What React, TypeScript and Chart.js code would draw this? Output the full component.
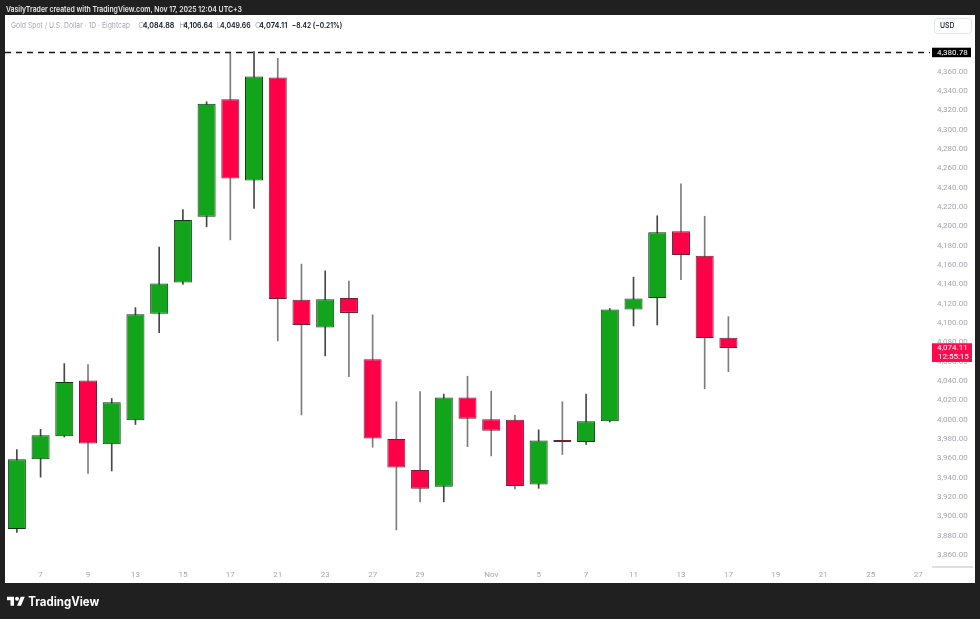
import React, { useEffect, useRef } from "react";
import { Chart, registerables } from "chart.js";

Chart.register(...registerables);

// ---- data ----
const dates = [
  "Oct 6", "Oct 7", "Oct 8", "Oct 9", "Oct 10", "Oct 13", "Oct 14", "Oct 15", "Oct 16", "Oct 17",
  "Oct 20", "Oct 21", "Oct 22", "Oct 23", "Oct 24", "Oct 27", "Oct 28", "Oct 29", "Oct 30", "Oct 31",
  "Nov 3", "Nov 4", "Nov 5", "Nov 6", "Nov 7", "Nov 10", "Nov 11", "Nov 12", "Nov 13", "Nov 14",
  "Nov 17", "Nov 18", "Nov 19", "Nov 20", "Nov 21", "Nov 24", "Nov 25", "Nov 26", "Nov 27",
];
const xTickLabels = [
  "", "7", "", "9", "", "13", "", "15", "", "17",
  "", "21", "", "23", "", "27", "", "29", "", "",
  "Nov", "", "5", "", "7", "", "11", "", "13", "",
  "17", "", "19", "", "21", "", "25", "", "27",
];
const opens = [
  3887, 3959, 3983, 4040.5, 3974.5, 3999.5, 4109.5, 4142, 4210, 4331.5,
  4247.5, 4354, 4124, 4095.5, 4126, 4062.5, 3980, 3948, 3930.5, 4023,
  4000.5, 4000, 3933, 3979, 3977, 3998.5, 4114, 4126, 4195, 4169.5,
  4084.88,
];
const highs = [
  3969, 3990, 4058, 4057, 4022, 4116, 4178.5, 4217.5, 4329, 4379.5,
  4380.78, 4374, 4161, 4154, 4143.5, 4108.5, 4018.5, 4029, 4026.5, 4045,
  4029.5, 4004.5, 3989.5, 4018.5, 4026.5, 4115, 4147.5, 4211, 4244, 4210.5,
  4106.64,
];
const lows = [
  3883.5, 3940.5, 3982, 3944.5, 3947, 3995, 4090, 4140, 4199.5, 4186,
  4218.5, 4081.5, 4005, 4066, 4044.5, 3971.5, 3886, 3915, 3915, 3972,
  3962.5, 3928.5, 3929, 3964, 3974.5, 3997.5, 4097, 4098, 4145, 4032,
  4049.66,
];
const closes = [
  3959, 3984, 4039, 3975.5, 4018, 4109, 4141, 4206.5, 4327, 4249.5,
  4355, 4125, 4098, 4124.5, 4110.5, 3980.5, 3950.5, 3928.5, 4023, 4001,
  3988.5, 3931.5, 3978.5, 3977, 3998.5, 4114, 4125.5, 4194, 4170.5, 4084.5,
  4074.11,
];
const yTicks = [
  3860, 3880, 3900, 3920, 3940, 3960, 3980, 4000, 4020, 4040, 4060, 4080, 4100,
  4120, 4140, 4160, 4180, 4200, 4220, 4240, 4260, 4280, 4300, 4320, 4340, 4360,
];
const yMin = 3847.6;
const yMax = 4418.7;
const athPrice = 4380.78;
const lastPrice = 4074.11;
const countdown = "12:55:15";

const UP = "#12a51c";
const UP_BORDER = "#0d3a11";
const DOWN = "#ff0048";
const DOWN_BORDER = "#6a2433";
const AXIS_TEXT = "#a3a6ad";
const FONT = "Roboto, 'Liberation Sans', sans-serif";

const fmt = (v: number) =>
  v.toLocaleString("en-US", { minimumFractionDigits: 2, maximumFractionDigits: 2 });

const overlayPlugin = {
  id: "tvOverlay",
  afterDraw(chart: any) {
    const { ctx, chartArea, scales } = chart;
    const y = scales.y;
    ctx.save();
    // ATH dashed line
    const ay = Math.round(y.getPixelForValue(athPrice)) + 0.5;
    ctx.setLineDash([6, 5]);
    ctx.strokeStyle = "#131722";
    ctx.lineWidth = 1.3;
    ctx.beginPath();
    ctx.moveTo(chartArea.left, ay);
    ctx.lineTo(chartArea.right, ay);
    ctx.stroke();
    ctx.setLineDash([]);
    // ATH label
    const bx = chartArea.right + 2;
    ctx.fillStyle = "#000000";
    ctx.fillRect(bx, ay - 4.8, 39, 9.5);
    ctx.fillStyle = "#ffffff";
    ctx.font = `8px ${FONT}`;
    ctx.textAlign = "left";
    ctx.textBaseline = "middle";
    ctx.fillText(fmt(athPrice), bx + 5, ay + 0.3);
    // last price label
    const ly = y.getPixelForValue(lastPrice);
    ctx.fillStyle = "#ff0a4c";
    ctx.fillRect(bx, ly - 4.8, 40, 18.7);
    ctx.fillStyle = "#ffffff";
    ctx.fillText(fmt(lastPrice), bx + 5, ly + 0.3);
    ctx.fillText(countdown, bx + 6, ly + 8.9);
    // small grey bar bottom-right
    ctx.strokeStyle = "#d1d4dc";
    ctx.lineWidth = 1.5;
    ctx.beginPath();
    ctx.moveTo(chartArea.right + 2, chartArea.bottom);
    ctx.lineTo(chartArea.right + 43, chartArea.bottom);
    ctx.stroke();
    ctx.restore();
  },
};

export default function App() {
  const ref = useRef<HTMLCanvasElement>(null);

  useEffect(() => {
    const canvas = ref.current;
    if (!canvas) return;
    const n = opens.length;
    const isUp = (i: number) => i < n && closes[i] >= opens[i];
    const bodies = dates.map((_, i) => (i < n ? [opens[i], closes[i]] : null));
    const wicks = dates.map((_, i) => (i < n ? [lows[i], highs[i]] : null));

    const chart = new Chart(canvas, {
      type: "bar",
      data: {
        labels: dates,
        datasets: [
          {
            label: "wicks",
            data: wicks as any,
            backgroundColor: dates.map((_, i) => (isUp(i) ? "#474747" : "#7c7c7c")),
            barThickness: 1,
            grouped: false,
            order: 2,
          } as any,
          {
            label: "bodies",
            data: bodies as any,
            backgroundColor: dates.map((_, i) => (isUp(i) ? UP : DOWN)),
            borderColor: dates.map((_, i) => (isUp(i) ? UP_BORDER : DOWN_BORDER)),
            borderWidth: 1,
            borderSkipped: false,
            barPercentage: 0.76,
            categoryPercentage: 1,
            grouped: false,
            order: 1,
          } as any,
        ],
      },
      options: {
        responsive: false,
        animation: false,
        layout: { padding: 0 },
        plugins: {
          legend: { display: false },
          tooltip: { enabled: false },
        },
        scales: {
          x: {
            type: "category",
            offset: true,
            grid: { display: false, drawTicks: false },
            border: { display: false },
            ticks: {
              autoSkip: false,
              maxRotation: 0,
              minRotation: 0,
              padding: 3,
              color: AXIS_TEXT,
              font: { family: FONT, size: 8 },
              callback: (_v: any, i: number) => xTickLabels[i],
            },
            afterFit: (s: any) => {
              s.height = 16;
              s.paddingLeft = 0;
              s.paddingRight = 0;
            },
          },
          y: {
            position: "right",
            min: yMin,
            max: yMax,
            grid: { display: false, drawTicks: false },
            border: { display: false },
            ticks: {
              crossAlign: "near",
              padding: 7,
              color: AXIS_TEXT,
              font: { family: FONT, size: 8 },
              callback: (v: any) => fmt(Number(v)),
            },
            afterBuildTicks: (s: any) => {
              s.ticks = yTicks.map((v) => ({ value: v }));
            },
            afterFit: (s: any) => {
              s.width = 45;
              s.paddingTop = 0;
              s.paddingBottom = 0;
            },
          },
        },
      } as any,
      plugins: [overlayPlugin],
    });
    return () => chart.destroy();
  }, []);

  const svgFont = "Inter, Roboto, 'Liberation Sans', sans-serif";

  return (
    <div
      style={{
        position: "fixed",
        left: 0,
        top: 0,
        width: 980,
        height: 619,
        background: "#202020",
        overflow: "hidden",
      }}
    >
      <div
        style={{
          position: "absolute",
          left: 5,
          top: 15,
          width: 970,
          height: 568,
          background: "#ffffff",
        }}
      >
        <canvas ref={ref} width={970} height={568} style={{ width: 970, height: 568, display: "block" }} />
      </div>
      <svg
        width={980}
        height={619}
        style={{ position: "absolute", left: 0, top: 0, pointerEvents: "none" }}
      >
        <text x={6} y={11.8} fontFamily={svgFont} fontSize={8} fontWeight={600} fill="#e6e6e6" textLength={236} lengthAdjust="spacingAndGlyphs">
          VasilyTrader created with TradingView.com, Nov 17, 2025 12:04 UTC+3
        </text>
        <g fontFamily={svgFont} fontSize={8}>
          <text x={11} y={28} fill="#a8abb3" textLength={119} lengthAdjust="spacingAndGlyphs">
            Gold Spot / U.S. Dollar · 1D · Eightcap
          </text>
          <text x={138.3} y={28} fill="#a8abb3">O</text>
          <text x={142.7} y={28} fill="#131722" fontWeight={600} textLength={31.6} lengthAdjust="spacingAndGlyphs">4,084.88</text>
          <text x={179.3} y={28} fill="#a8abb3">H</text>
          <text x={183.3} y={28} fill="#131722" fontWeight={600} textLength={29.4} lengthAdjust="spacingAndGlyphs">4,106.64</text>
          <text x={216.7} y={28} fill="#a8abb3">L</text>
          <text x={220} y={28} fill="#131722" fontWeight={600} textLength={30.7} lengthAdjust="spacingAndGlyphs">4,049.66</text>
          <text x={255} y={28} fill="#a8abb3">C</text>
          <text x={259} y={28} fill="#131722" fontWeight={600} textLength={28.3} lengthAdjust="spacingAndGlyphs">4,074.11</text>
          <text x={291.7} y={28} fill="#131722" fontWeight={600} textLength={50.6} lengthAdjust="spacingAndGlyphs">−8.42 (−0.21%)</text>
        </g>
        <rect x={934.5} y={18.5} width={37} height={15} rx={3} fill="#ffffff" stroke="#e0e3eb" />
        <text x={940} y={28.3} fontFamily={svgFont} fontSize={8} fontWeight={500} fill="#131722" textLength={14.5} lengthAdjust="spacingAndGlyphs">
          USD
        </text>
        <g transform="translate(7 594.7) scale(0.5)" fill="#ffffff">
          <path d="M14 22H7V11H0V4h14v18zM28 22h-8l7.5-18h8L28 22z" />
          <circle cx={20} cy={8} r={4} />
        </g>
        <text x={28.3} y={605.7} fontFamily={svgFont} fontSize={12.5} fontWeight={700} fill="#ffffff" textLength={71} lengthAdjust="spacingAndGlyphs">
          TradingView
        </text>
      </svg>
    </div>
  );
}
